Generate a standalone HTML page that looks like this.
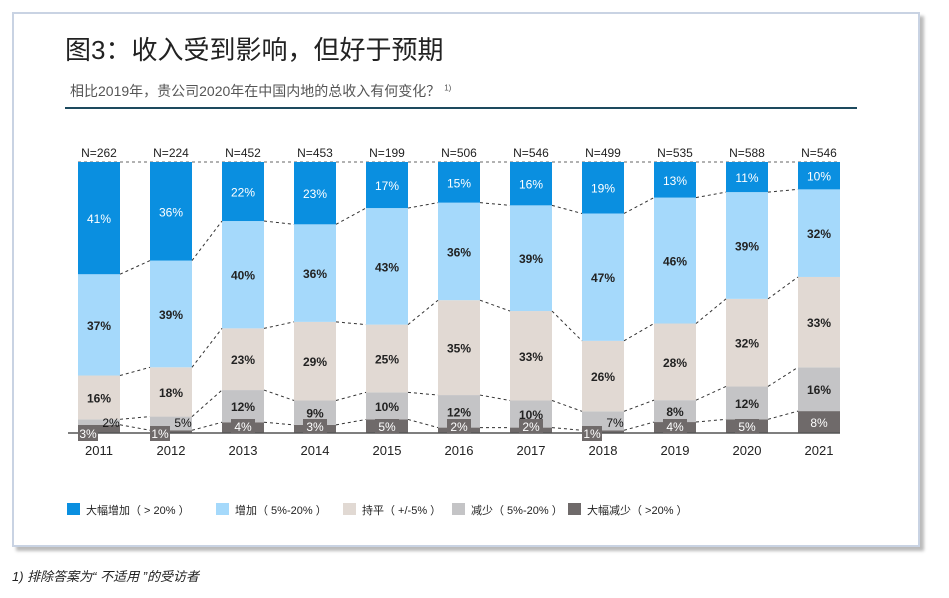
<!DOCTYPE html>
<html><head><meta charset="utf-8"><style>
body{margin:0;width:949px;height:598px;background:#fff;font-family:"Liberation Sans","Noto Sans CJK SC",sans-serif;overflow:hidden;position:relative}
#card{position:absolute;left:12px;top:12px;width:904px;height:531px;border:2px solid #c9d3e3;background:#fff;box-shadow:4px 4px 3px #bbb}
#title{position:absolute;left:65px;top:30px;font-size:26px;color:#222}
#sub{position:absolute;left:70px;top:81px;font-size:14px;color:#555}
#rule{position:absolute;left:65px;top:107px;width:792px;height:2px;background:#1d4a5e}
#foot{position:absolute;left:12px;top:566px;font-size:13px;font-style:italic;color:#222}
</style></head><body>
<div id="card"></div>
<div id="title">图3：收入受到影响，但好于预期</div>
<div id="sub">相比2019年，贵公司2020年在中国内地的总收入有何变化？ <sup style="font-size:8px">1)</sup></div>
<div id="rule"></div>
<svg id="chart" width="949" height="598" style="position:absolute;left:0;top:0"></svg>
<div id="foot">1) 排除答案为“ 不适用 ”的受访者</div>
<script>
const years=["2011","2012","2013","2014","2015","2016","2017","2018","2019","2020","2021"];
const nLabels=["N=262","N=224","N=452","N=453","N=199","N=506","N=546","N=499","N=535","N=588","N=546"];
const bigDecrease=[3,1,4,3,5,2,2,1,4,5,8];
const decrease=[2,5,12,9,10,12,10,7,8,12,16];
const flat=[16,18,23,29,25,35,33,26,28,32,33];
const increase=[37,39,40,36,43,36,39,47,46,39,32];
const bigIncrease=[41,36,22,23,17,15,16,19,13,11,10];
const seriesNames=["大幅增加（ > 20% ）","增加（ 5%-20% ）","持平（ +/-5% ）","减少（ 5%-20% ）","大幅减少（ >20% ）"];
const colors=["#0a8fe0","#a5d9fb","#e1d9d3","#c4c4c6","#6f6a6a"];
const stacks=[bigDecrease,decrease,flat,increase,bigIncrease];
const svg=document.getElementById('chart');const NS="http://www.w3.org/2000/svg";
function mk(t,a,p){const e=document.createElementNS(NS,t);for(const k in a)e.setAttribute(k,a[k]);(p||svg).appendChild(e);return e;}
const x0=99,step=72,bw=42,base=433,yTop=162;
const xC=i=>x0+i*step;
const yS=(v,tot)=>base-(v/tot)*(base-yTop);
mk('line',{x1:78,y1:yTop,x2:840,y2:yTop,stroke:'#666','stroke-dasharray':'3,3'});
const bounds=[];const labelJobs=[];
years.forEach((y,i)=>{
  const tot=stacks.reduce((s,a)=>s+a[i],0);let cum=0;const b=[];
  const shifted=decrease[i]<8;
  stacks.forEach((arr,k)=>{
    const y1=yS(cum,tot),y2=yS(cum+arr[i],tot);
    const r=mk('rect',{x:xC(i)-bw/2,y:y2,width:bw,height:y1-y2,fill:colors[4-k]});
    
    
    cum+=arr[i];b.push(y2);
    labelJobs.push([i,k,arr[i],y1,y2,shifted]);
  });
  bounds.push(b);
  const n=mk('text',{x:xC(i),y:157,'text-anchor':'middle','font-size':12,fill:'#222'});n.textContent=nLabels[i];
  
  
  const yl=mk('text',{x:xC(i),y:455,'text-anchor':'middle','font-size':13,fill:'#222'});yl.textContent=y;
  
  
});
for(let i=0;i<years.length-1;i++)for(let k=0;k<4;k++)
  mk('line',{x1:xC(i)+bw/2,y1:bounds[i][k],x2:xC(i+1)-bw/2,y2:bounds[i+1][k],stroke:'#333','stroke-dasharray':'3,3'});
mk('line',{x1:68,y1:base,x2:840,y2:base,stroke:'#555','stroke-width':1.5});
labelJobs.forEach(([i,k,v,y1,y2,shifted])=>{
  const mid=(y1+y2)/2;
  if(k===0){
    if(shifted){
      mk('rect',{x:xC(i)-21,y:base-7,width:20,height:15,fill:'#6f6a6a'});
      const t=mk('text',{x:xC(i)-11,y:base+5,'text-anchor':'middle','font-size':12,fill:'#fff'});t.textContent=v+'%';
    }else{
      const cy=Math.min(mid,base-7);
      if(y1-y2<14) mk('rect',{x:xC(i)-12,y:cy-7,width:24,height:14,fill:'#6f6a6a'});
      const t=mk('text',{x:xC(i),y:cy+5,'text-anchor':'middle','font-size':12,fill:'#fff'});t.textContent=v+'%';
    }
  }else if(k===1&&shifted){
    const t=mk('text',{x:xC(i)+12,y:base-6,'text-anchor':'middle','font-size':12,fill:'#111'});t.textContent=v+'%';
  }else{
    const t=mk('text',{x:xC(i),y:mid+5,'text-anchor':'middle','font-size':12,'font-weight':k===4?'normal':'bold',fill:k===4?'#fff':'#222'});t.textContent=v+'%';
  }
});
const lx=[67,216,343,452,568];
seriesNames.forEach((s,k)=>{
  const r=mk('rect',{x:lx[k],y:503,width:13,height:12,fill:colors[k]});
  
  
  const t=mk('text',{x:lx[k]+19,y:514,'font-size':11,fill:'#222'});t.textContent=s;
  
  
});
</script>
</body></html>
